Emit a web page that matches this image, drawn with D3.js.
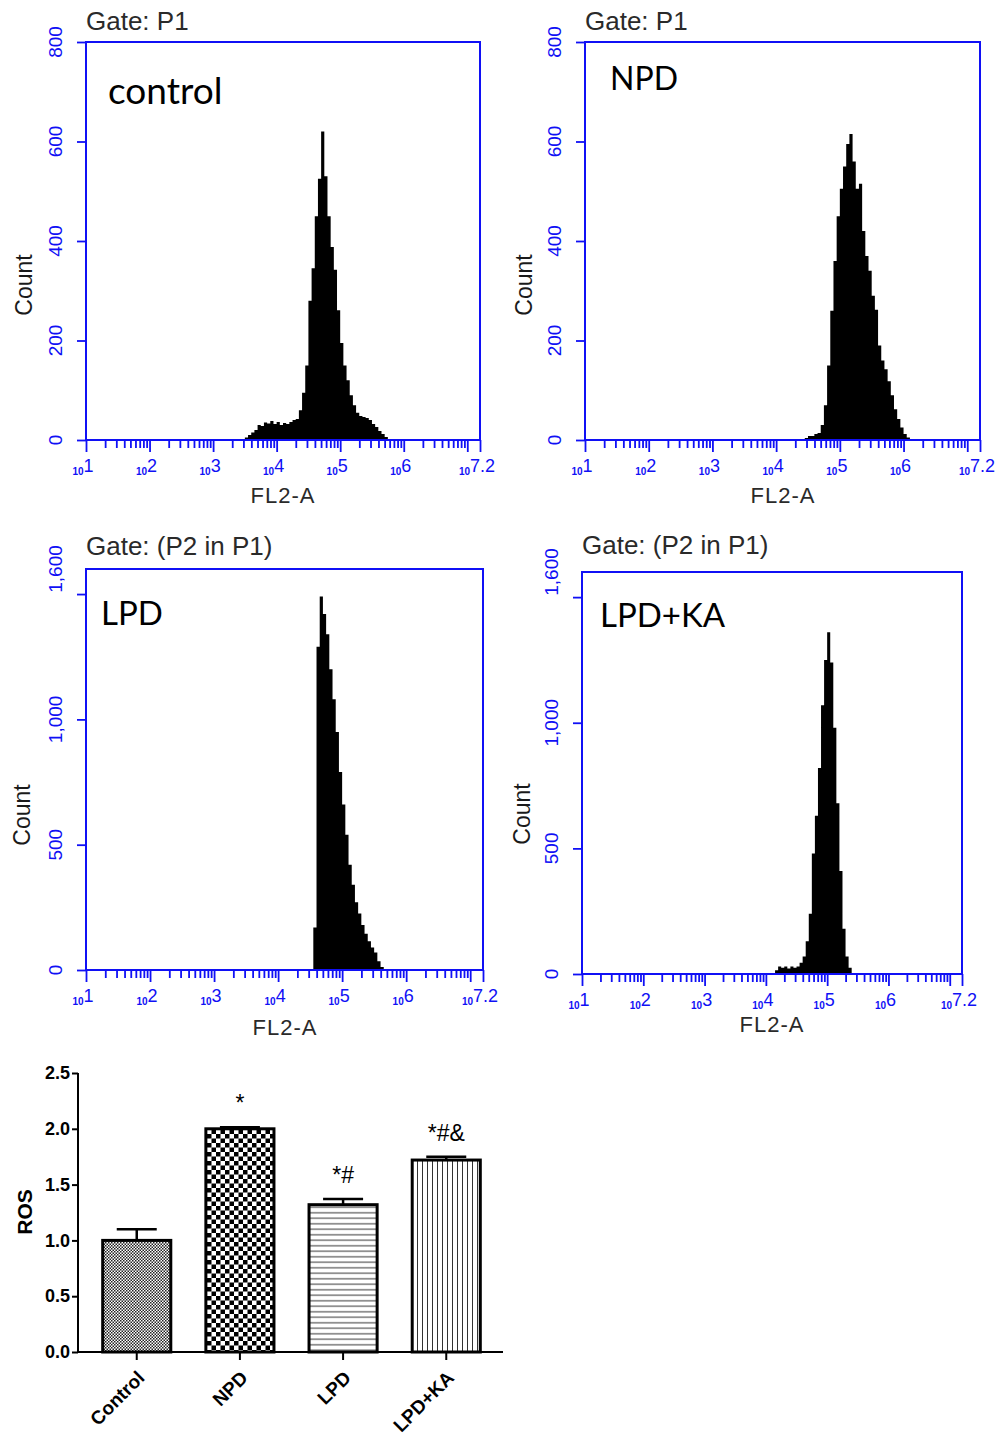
<!DOCTYPE html>
<html>
<head>
<meta charset="utf-8">
<script src="https://cdn.jsdelivr.net/npm/d3@7"></script>
<style>
  body { margin: 0; background: #fff; }
  svg text { font-family: "Liberation Sans", Arial, sans-serif; }
</style>
</head>
<body>
<div id="chart"></div>
<script>
// ---- flow cytometry histograms (FL2-A), bins are 0.05 decades wide ----
const binWidth = 0.05;

const controlStart = 3.50;
const controlCounts = [5, 10, 15, 20, 30, 28, 35, 33, 38, 32, 36, 30, 34, 32, 36, 40, 42, 60, 95, 150,
  280, 345, 450, 525, 620, 530, 450, 388, 342, 261, 195, 150, 120, 90, 70, 55, 48, 46, 44, 40,
  32, 26, 18, 12, 6, 2];

const npdStart = 4.45;
const npdCounts = [4, 8, 8, 12, 14, 30, 70, 150, 260, 360, 450, 505, 550, 595, 615, 560, 505, 515,
  420, 370, 340, 290, 262, 190, 160, 142, 118, 90, 62, 42, 25, 12, 5];

const lpdStart = 4.55;
const lpdCounts = [170, 1290, 1490, 1420, 1340, 1200, 1080, 950, 790, 660, 540, 420, 340, 270, 225,
  180, 145, 115, 90, 70, 35, 12];

const lpdkaStart = 4.15;
const lpdkaCounts = [15, 30, 25, 30, 22, 30, 25, 30, 45, 70, 130, 240, 480, 630, 820, 1070, 1250,
  1360, 1240, 980, 680, 410, 180, 70, 25];

const xExponents = ["1", "2", "3", "4", "5", "6", "7.2"];
const countTicksTop = [0, 200, 400, 600, 800];
const countLabelsTop = ["0", "200", "400", "600", "800"];
const countTicksBottom = [0, 500, 1000, 1500];
const countLabelValsBottom = [0, 500, 1000, 1600];
const countLabelsBottom = ["0", "500", "1,000", "1,600"];

// ---- ROS bar chart ----
const groups = ["Control", "NPD", "LPD", "LPD+KA"];
const rosMean = [1.0, 2.0, 1.32, 1.72];
const rosErr = [0.10, 0.015, 0.05, 0.03];
const rosMarks = ["", "*", "*#", "*#&"];
const rosTicks = [0, 0.5, 1.0, 1.5, 2.0, 2.5];
const patterns = ["pFine", "pCheck", "pHoriz", "pVert"];

const blue = "#1010f5";

const svg = d3.select("#chart")
  .append("svg")
  .attr("width", 1002)
  .attr("height", 1440);

const panels = [
  {name: "control", gate: "Gate: P1", start: controlStart, counts: controlCounts, yMax: 800,
   ticks: countTicksTop, labVals: countTicksTop, labs: countLabelsTop,
   left: 86, right: 480, top: 42, bottom: 440, nameX: 108, nameY: 104, nameSize: 37,
   gateY: 30, countX: 32, countY: 285, flX: 283, flY: 503},
  {name: "NPD", gate: "Gate: P1", start: npdStart, counts: npdCounts, yMax: 800,
   ticks: countTicksTop, labVals: countTicksTop, labs: countLabelsTop,
   left: 585, right: 980, top: 42, bottom: 440, nameX: 610, nameY: 90, nameSize: 32,
   gateY: 30, countX: 532, countY: 285, flX: 783, flY: 503},
  {name: "LPD", gate: "Gate: (P2 in P1)", start: lpdStart, counts: lpdCounts, yMax: 1600,
   ticks: countTicksBottom, labVals: countLabelValsBottom, labs: countLabelsBottom,
   left: 86, right: 483, top: 569, bottom: 970, nameX: 101, nameY: 625, nameSize: 33,
   gateY: 555, countX: 30, countY: 815, flX: 285, flY: 1035},
  {name: "LPD+KA", gate: "Gate: (P2 in P1)", start: lpdkaStart, counts: lpdkaCounts, yMax: 1600,
   ticks: countTicksBottom, labVals: countLabelValsBottom, labs: countLabelsBottom,
   left: 582, right: 962, top: 572, bottom: 974, nameX: 600, nameY: 627, nameSize: 33,
   gateY: 554, countX: 530, countY: 814, flX: 772, flY: 1032}
];

panels.forEach(drawHist);

function drawHist(p) {
  const g = svg.append("g");

  const xScale = d3.scaleLog()
    .domain([10, Math.pow(10, 7.2)])
    .range([p.left, p.right]);

  const yScale = d3.scaleLinear()
    .domain([0, p.yMax])
    .range([p.bottom, p.top]);

  // histogram as a step area
  const pts = p.counts.map((c, i) => ({lg: p.start + i * binWidth, c: c}));
  pts.push({lg: p.start + p.counts.length * binWidth, c: 0});

  const area = d3.area()
    .curve(d3.curveStepAfter)
    .x(d => xScale(Math.pow(10, d.lg)))
    .y0(yScale(0))
    .y1(d => yScale(d.c));

  g.append("path")
    .datum(pts)
    .attr("d", area)
    .attr("fill", "#000");

  // frame
  g.append("rect")
    .attr("x", p.left)
    .attr("y", p.top)
    .attr("width", p.right - p.left)
    .attr("height", p.bottom - p.top)
    .attr("fill", "none")
    .attr("stroke", blue)
    .attr("stroke-width", 2);

  // log ticks
  const majors = d3.range(1, 8).map(e => Math.pow(10, e));
  const minors = [];
  d3.range(1, 7).forEach(e => d3.range(2, 10).forEach(m => minors.push(m * Math.pow(10, e))));

  const axMinor = d3.axisBottom(xScale).tickValues(minors).tickSize(8).tickFormat("");
  const axMajor = d3.axisBottom(xScale).tickValues(majors.concat([Math.pow(10, 7.2)])).tickSize(12).tickFormat("");
  [axMinor, axMajor].forEach(ax => {
    g.append("g")
      .attr("transform", `translate(0,${p.bottom})`)
      .call(ax)
      .call(a => a.select(".domain").remove())
      .selectAll("line")
      .attr("stroke", blue)
      .attr("stroke-width", 1.8);
  });

  // x tick labels: small "10" followed by exponent
  xExponents.forEach(e => {
    const t = g.append("text")
      .attr("x", xScale(Math.pow(10, +e)) - 3)
      .attr("y", p.bottom + 35)
      .attr("text-anchor", "middle")
      .attr("fill", blue);
    t.append("tspan").attr("font-size", 10).attr("font-weight", "bold").text("10");
    t.append("tspan").attr("font-size", 18).attr("dy", -3).text(e);
  });

  // y ticks
  g.append("g")
    .attr("transform", `translate(${p.left},0)`)
    .call(d3.axisLeft(yScale).tickValues(p.ticks).tickSize(9).tickFormat(""))
    .call(a => a.select(".domain").remove())
    .selectAll("line")
    .attr("stroke", blue)
    .attr("stroke-width", 1.8);

  p.labVals.forEach((v, i) => {
    g.append("text")
      .attr("transform", `translate(${p.left - 24},${yScale(v)}) rotate(-90)`)
      .attr("text-anchor", "middle")
      .attr("font-size", 19)
      .attr("fill", blue)
      .text(p.labs[i]);
  });

  // titles
  g.append("text")
    .attr("x", p.left)
    .attr("y", p.gateY)
    .attr("font-size", 26)
    .attr("fill", "#2a2a2a")
    .text(p.gate);

  g.append("text")
    .attr("x", p.nameX)
    .attr("y", p.nameY)
    .attr("font-size", p.nameSize)
    .style("font-family", "Lato, 'Open Sans', sans-serif")
    .attr("fill", "#000")
    .text(p.name);

  g.append("text")
    .attr("transform", `translate(${p.countX},${p.countY}) rotate(-90)`)
    .attr("text-anchor", "middle")
    .attr("font-size", 23)
    .attr("fill", "#1a1a1a")
    .text("Count");

  g.append("text")
    .attr("x", p.flX)
    .attr("y", p.flY)
    .attr("text-anchor", "middle")
    .attr("font-size", 22)
    .attr("letter-spacing", 1)
    .attr("fill", "#2a2a2a")
    .text("FL2-A");
}

// ---- bar chart ----
drawBars();

function drawBars() {
  const defs = svg.append("defs");

  const pf = defs.append("pattern").attr("id", "pFine").attr("patternUnits", "userSpaceOnUse")
    .attr("width", 3).attr("height", 3);
  pf.append("rect").attr("width", 3).attr("height", 3).attr("fill", "#fff");
  pf.append("rect").attr("width", 1.5).attr("height", 1.5).attr("fill", "#222");
  pf.append("rect").attr("x", 1.5).attr("y", 1.5).attr("width", 1.5).attr("height", 1.5).attr("fill", "#222");

  const pc = defs.append("pattern").attr("id", "pCheck").attr("patternUnits", "userSpaceOnUse")
    .attr("width", 9).attr("height", 9);
  pc.append("rect").attr("width", 9).attr("height", 9).attr("fill", "#fff");
  pc.append("rect").attr("width", 4.5).attr("height", 4.5).attr("fill", "#000");
  pc.append("rect").attr("x", 4.5).attr("y", 4.5).attr("width", 4.5).attr("height", 4.5).attr("fill", "#000");

  const ph = defs.append("pattern").attr("id", "pHoriz").attr("patternUnits", "userSpaceOnUse")
    .attr("width", 6).attr("height", 5.5);
  ph.append("rect").attr("width", 6).attr("height", 5.5).attr("fill", "#fff");
  ph.append("line").attr("x1", 0).attr("x2", 6).attr("y1", 2.75).attr("y2", 2.75)
    .attr("stroke", "#333").attr("stroke-width", 1);

  const pv = defs.append("pattern").attr("id", "pVert").attr("patternUnits", "userSpaceOnUse")
    .attr("width", 5).attr("height", 6);
  pv.append("rect").attr("width", 5).attr("height", 6).attr("fill", "#fff");
  pv.append("line").attr("x1", 2.5).attr("x2", 2.5).attr("y1", 0).attr("y2", 6)
    .attr("stroke", "#333").attr("stroke-width", 1);

  const data = groups.map((k, i) => ({k: k, v: rosMean[i], e: rosErr[i], m: rosMarks[i], p: patterns[i]}));

  const xScale = d3.scaleBand()
    .domain(groups)
    .range([80, 503])
    .paddingInner(0.34)
    .paddingOuter(0.22);

  const yScale = d3.scaleLinear()
    .domain([0, 2.5])
    .range([1352, 1073]);

  const g = svg.append("g");

  // error bars (upper only)
  const cap = 20;
  data.forEach(d => {
    const cx = xScale(d.k) + xScale.bandwidth() / 2;
    g.append("line")
      .attr("x1", cx).attr("x2", cx)
      .attr("y1", yScale(d.v)).attr("y2", yScale(d.v + d.e))
      .attr("stroke", "#000").attr("stroke-width", 2.5);
    g.append("line")
      .attr("x1", cx - cap).attr("x2", cx + cap)
      .attr("y1", yScale(d.v + d.e)).attr("y2", yScale(d.v + d.e))
      .attr("stroke", "#000").attr("stroke-width", 2.5);
  });

  g.selectAll(".bar")
    .data(data)
    .join("rect")
    .attr("class", "bar")
    .attr("x", d => xScale(d.k))
    .attr("y", d => yScale(d.v))
    .attr("width", xScale.bandwidth())
    .attr("height", d => yScale(0) - yScale(d.v))
    .attr("fill", d => `url(#${d.p})`)
    .attr("stroke", "#000")
    .attr("stroke-width", 3);

  // significance marks
  g.selectAll(".mark")
    .data(data)
    .join("text")
    .attr("class", "mark")
    .attr("x", d => xScale(d.k) + xScale.bandwidth() / 2)
    .attr("y", d => yScale(d.v + d.e) - 16)
    .attr("text-anchor", "middle")
    .attr("font-size", 23)
    .attr("fill", "#000")
    .text(d => d.m);

  // axes
  const yAxis = d3.axisLeft(yScale).tickValues(rosTicks).tickSize(6).tickFormat(d3.format(".1f"));
  g.append("g")
    .attr("transform", "translate(78,0)")
    .call(yAxis)
    .call(a => a.select(".domain").attr("stroke-width", 2).attr("d", "M0,1073V1352"))
    .call(a => a.selectAll("line").attr("stroke-width", 2))
    .call(a => a.selectAll("text")
      .attr("font-size", 18)
      .attr("font-weight", "bold")
      .attr("fill", "#000")
      .attr("x", -8)
      .style("font-family", "'Liberation Sans', Arial, sans-serif"));

  const xAxis = d3.axisBottom(xScale).tickSize(8).tickSizeOuter(0).tickFormat("");
  g.append("g")
    .attr("transform", "translate(0,1352)")
    .call(xAxis)
    .call(a => a.select(".domain").attr("stroke-width", 2).attr("d", "M78,0H503"))
    .call(a => a.selectAll("line").attr("stroke-width", 2));

  data.forEach(d => {
    const cx = xScale(d.k) + xScale.bandwidth() / 2;
    g.append("text")
      .attr("transform", `translate(${cx + 9},${1379}) rotate(-45)`)
      .attr("text-anchor", "end")
      .attr("font-size", 19)
      .attr("font-weight", "bold")
      .attr("fill", "#000")
      .text(d.k);
  });

  g.append("text")
    .attr("transform", "translate(32,1212) rotate(-90)")
    .attr("text-anchor", "middle")
    .attr("font-size", 21)
    .attr("font-weight", "bold")
    .attr("fill", "#000")
    .text("ROS");
}
</script>
</body>
</html>
